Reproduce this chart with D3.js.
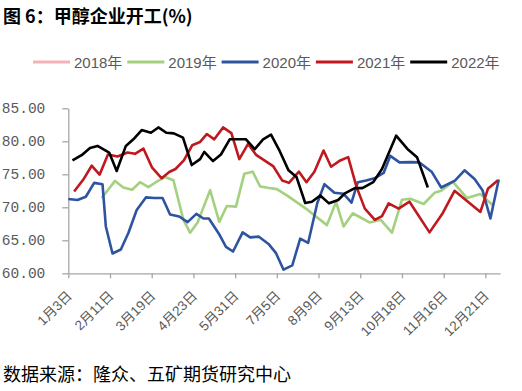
<!DOCTYPE html>
<html>
<head>
<meta charset="utf-8">
<script src="https://cdn.jsdelivr.net/npm/d3@7/dist/d3.min.js"></script>
<style>
  body { margin: 0; background: #fff; }
  svg { display: block; }
</style>
</head>
<body>
<svg id="chart" width="522" height="391"></svg>
<script>
// tick labels on the category axis (one label every 5 weeks)
const tickLabels = ["1月3日", "2月11日", "3月19日", "4月23日", "5月31日", "7月5日",
                    "8月9日", "9月13日", "10月18日", "11月16日", "12月21日"];
const yTicks = [60, 65, 70, 75, 80, 85];

// series: [week position, operating rate %]
const s2018 = [];
const s2019 = [[4.0,71.4],[5.6,74.0],[6.6,73.0],[7.65,72.65],[8.6,73.8],[9.6,73.05],[10.5,73.8],
  [11.6,74.6],[12.6,74.1],[13.8,68.1],[14.6,66.15],[15.5,67.7],[17.0,72.6],[18.1,67.8],[19.0,70.2],
  [20.1,70.1],[21.1,75.1],[22.1,75.4],[23.0,73.15],[23.9,72.95],[25.0,72.75],[26.2,71.8],[28.7,69.6],
  [31.0,67.3],[32.1,70.8],[33.0,67.1],[34.1,69.1],[36.1,67.7],[37.45,68.1],[38.8,66.15],[40.0,71.15],
  [41.0,71.3],[42.6,70.5],[43.9,72.2],[44.7,72.5],[46.1,73.85],[47.8,71.4],[49.4,72.0],[50.9,70.3]];
const s2020 = [[0.0,71.25],[1.1,71.1],[2.1,71.6],[3.1,73.7],[4.1,73.5],[4.5,67.1],[5.3,63.0],[6.3,63.6],
  [7.2,66.1],[8.2,69.6],[9.3,71.5],[10.3,71.4],[11.3,71.4],[12.2,68.9],[13.3,68.6],[14.3,67.75],
  [15.35,69.0],[16.2,68.3],[16.85,68.3],[18.05,66.0],[18.9,64.0],[19.75,63.3],[20.9,66.2],[21.8,65.45],
  [22.85,65.55],[24.0,64.45],[24.9,63.05],[25.8,60.55],[26.85,61.2],[27.8,65.25],[28.75,64.6],
  [29.85,70.65],[30.7,73.5],[31.9,72.2],[33.0,72.05],[33.95,70.7],[34.7,73.8],[35.7,74.05],[36.7,74.4],
  [37.8,75.2],[38.6,77.8],[39.7,76.8],[41.0,76.85],[42.1,76.8],[43.55,75.4],[44.7,73.0],[46.35,74.05],
  [47.5,75.6],[48.7,74.3],[49.65,72.6],[50.6,68.3],[51.6,74.2]];
const s2021 = [[0.7,72.4],[1.8,74.2],[2.8,76.3],[3.75,74.95],[4.75,78.0],[5.9,77.7],[7.1,78.3],[8.0,78.1],
  [9.0,78.9],[10.05,76.0],[11.2,74.4],[12.1,75.35],[12.85,75.8],[13.85,77.1],[14.85,79.4],[15.8,79.9],
  [16.6,81.1],[17.5,80.3],[18.55,82.1],[19.55,81.25],[20.5,77.3],[21.55,79.6],[22.55,77.9],[24.55,76.25],
  [25.65,74.05],[26.45,73.7],[27.65,75.4],[28.55,73.8],[29.5,75.4],[30.6,78.6],[31.5,76.15],[32.6,77.1],
  [33.55,77.6],[34.55,73.1],[35.55,69.8],[36.75,68.1],[37.6,68.65],[38.4,70.6],[39.6,69.8],[40.9,70.85],
  [43.3,66.2],[44.9,69.15],[46.3,72.5],[49.4,69.3],[50.3,72.8],[51.5,74.1]];
const s2022 = [[0.5,77.1],[1.6,77.9],[2.6,79.0],[3.5,79.3],[4.9,78.3],[5.8,75.5],[6.9,79.3],[7.8,80.3],
  [8.8,81.7],[9.9,81.3],[10.8,82.1],[11.75,81.3],[12.65,81.2],[13.75,80.55],[14.8,76.4],[15.8,77.3],
  [16.3,78.4],[17.35,77.0],[18.3,78.0],[19.35,80.3],[21.3,80.3],[22.35,78.8],[23.35,80.3],[24.3,81.0],
  [25.35,78.5],[26.4,75.6],[27.35,74.6],[28.4,70.65],[29.2,70.85],[30.2,71.8],[31.25,70.6],[32.35,71.1],
  [33.15,72.1],[34.35,72.9],[35.25,72.9],[36.55,73.8],[37.6,75.8],[39.3,80.85],[40.65,78.85],
  [41.8,77.6],[43.1,73.0]];

const seriesNames = ["2018年", "2019年", "2020年", "2021年", "2022年"];
const seriesData = [s2018, s2019, s2020, s2021, s2022];
const colors = ["#f4b3b6", "#a3d17f", "#2e54a0", "#c0181f", "#000000"];

const svg = d3.select("#chart");

const x = d3.scaleLinear().domain([0, 51.75]).range([68.3, 500]);
const y = d3.scaleLinear().domain([60, 85]).range([273.3, 108.3]);

// title
svg.append("text")
  .attr("x", 3).attr("y", 23)
  .attr("font-family", "'Noto Sans CJK SC', sans-serif")
  .attr("font-weight", "bold").attr("font-size", 18)
  .attr("fill", "#000")
  .text("图 6：甲醇企业开工(%)");

// legend
let legend = svg.append("g").attr("transform", "translate(33,62)");
seriesNames.forEach(function(name, i) {
  let g = legend.append("g").attr("transform", "translate(" + (i * 94.3) + ",0)");
  g.append("line").attr("x1", 0).attr("x2", 37).attr("y1", 0).attr("y2", 0)
    .attr("stroke", colors[i]).attr("stroke-width", 3);
  g.append("text").attr("x", 41).attr("y", 5.5)
    .attr("font-family", "'Liberation Sans', 'Noto Sans CJK SC', sans-serif")
    .attr("font-size", 15).attr("fill", "#595959")
    .text(name);
});

// y axis
let yAxis = svg.append("g")
  .attr("transform", "translate(" + x(0) + ",0)")
  .call(d3.axisLeft(y).tickValues(yTicks).tickFormat(d3.format(".2f")).tickSize(6).tickSizeOuter(0).tickPadding(17));
yAxis.select(".domain").attr("stroke", "#a6a6a6").attr("stroke-width", 1.3);
yAxis.selectAll(".tick line").attr("stroke", "#a6a6a6").attr("stroke-width", 1.3);
yAxis.selectAll(".tick text")
  .attr("font-family", "'Liberation Mono', 'DejaVu Sans Mono', monospace")
  .attr("font-size", 14.5).attr("fill", "#595959");

// x axis
let xAxis = svg.append("g")
  .attr("transform", "translate(0," + y(60) + ")")
  .call(d3.axisBottom(x).tickValues(d3.range(0, 51, 5)).tickFormat("").tickSize(5).tickSizeOuter(0));
xAxis.select(".domain").attr("stroke", "#a6a6a6").attr("stroke-width", 1.3);
xAxis.selectAll(".tick line").attr("stroke", "#a6a6a6").attr("stroke-width", 1.3);

svg.append("g").selectAll("text")
  .data(tickLabels)
  .enter().append("text")
  .attr("transform", function(d, i) {
    return "translate(" + (x(i * 5 + 0.5) - 3) + "," + (y(60) + 20) + ") rotate(-45)";
  })
  .attr("text-anchor", "end")
  .attr("dy", "0.35em")
  .attr("font-family", "'Liberation Sans', 'Noto Sans CJK SC', sans-serif")
  .attr("font-size", 13.5).attr("fill", "#595959")
  .text(function(d) { return d; });

// lines
let line = d3.line()
  .x(function(d) { return x(d[0]); })
  .y(function(d) { return y(d[1]); });

seriesData.forEach(function(data, i) {
  if (!data.length) return;
  svg.append("path")
    .datum(data)
    .attr("d", line)
    .attr("fill", "none")
    .attr("stroke", colors[i])
    .attr("stroke-width", 2.6)
    .attr("stroke-linejoin", "round");
});

// source note
svg.append("text")
  .attr("x", 3).attr("y", 381)
  .attr("font-family", "'Noto Sans CJK SC', sans-serif")
  .attr("font-size", 18).attr("fill", "#000")
  .text("数据来源：隆众、五矿期货研究中心");
</script>
</body>
</html>
